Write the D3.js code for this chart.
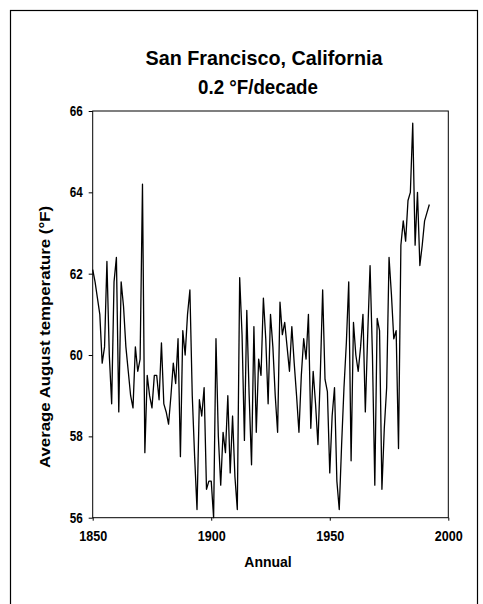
<!DOCTYPE html>
<html><head><meta charset="utf-8">
<script src="https://cdn.jsdelivr.net/npm/d3@7"></script>
<style>body{margin:0;background:#fff}svg{display:block}</style>
</head><body>
<script>
const startYear = 1850;
const temps = [
62.1,61.8,61.4,61.0,59.8,60.2,62.3,60.0,58.8,61.8,
62.4,58.6,61.8,61.2,60.2,59.6,59.0,58.7,60.2,59.6,
59.9,64.2,57.6,59.5,59.0,58.7,59.5,59.5,58.9,60.3,
58.8,58.6,58.3,59.0,59.8,59.3,60.4,57.5,60.6,60.0,
61.0,61.6,59.0,57.5,56.2,58.9,58.5,59.2,56.7,56.9,
56.9,56.0,60.4,58.0,56.8,58.1,57.6,59.0,57.1,58.5,
57.0,56.2,61.9,60.5,57.9,61.1,59.0,57.3,60.7,58.1,
59.9,59.5,61.4,60.4,58.8,61.0,60.2,59.0,58.1,61.3,
60.5,60.8,60.2,59.6,60.7,59.8,59.0,58.1,59.5,60.4,
59.9,61.0,58.2,59.6,58.8,57.8,59.5,61.6,59.4,59.1,
57.1,58.5,59.2,56.9,56.2,57.8,59.2,60.3,61.8,57.4,
60.8,60.0,59.6,60.2,61.0,58.6,60.5,62.2,60.0,56.8,
60.9,60.6,56.7,58.2,59.2,62.4,61.5,60.4,60.6,57.7,
62.7,63.3,62.8,63.8,64.0,65.7,62.7,64.0,62.2,62.7,
63.3,63.5,63.7
];
const years = temps.map((d,i)=>startYear+i);
const xTicks = [1850,1900,1950,2000];
const yTicks = [56,58,60,62,64,66];
const titleLines = ["San Francisco, California","0.2 °F/decade"];
const xLabel = "Annual";
const yLabel = "Average August temperature (°F)";

const W=483,H=604;
const m={left:92.7,right:448.3,top:111,bottom:517.7};
const font='"Liberation Sans",Arial,sans-serif';
const svg=d3.select("body").append("svg").attr("width",W).attr("height",H);
svg.append("rect").attr("x",10.5).attr("y",10.5).attr("width",467).attr("height",H).attr("fill","none").attr("stroke","#000").attr("stroke-width",1.2);

const x=d3.scaleLinear().domain([1850,2000]).range([m.left,m.right]);
const y=d3.scaleLinear().domain([56,66]).range([m.bottom,m.top]);

svg.append("rect").attr("x",m.left).attr("y",m.top).attr("width",m.right-m.left).attr("height",m.bottom-m.top)
  .attr("fill","none").attr("stroke","#000").attr("stroke-width",1);

const gy=svg.append("g").attr("transform",`translate(${m.left},0)`)
  .call(d3.axisLeft(y).tickValues(yTicks).tickSize(4).tickPadding(6).tickFormat(d3.format("d")));
const gx=svg.append("g").attr("transform",`translate(0,${m.bottom})`)
  .call(d3.axisBottom(x).tickValues(xTicks).tickSize(3).tickPadding(10).tickFormat(d3.format("d")));
[gx,gy].forEach(g=>{g.select(".domain").remove();
  g.selectAll("text").attr("font-family",font).attr("font-weight","bold").attr("font-size",14).attr("fill","#000")
   .attr("lengthAdjust","spacingAndGlyphs");
  g.selectAll("line").attr("stroke","#000");});
gx.selectAll("text").attr("textLength",28);
gy.selectAll("text").attr("textLength",13);

const line=d3.line().x((d,i)=>x(years[i])).y(d=>y(d));
svg.append("path").datum(temps).attr("d",line).attr("fill","none").attr("stroke","#000").attr("stroke-width",1.3).attr("stroke-linejoin","round");

const tLens=[237,120];
svg.selectAll(".title").data(titleLines).enter().append("text")
  .attr("x",(d,i)=>i?258:264).attr("y",(d,i)=>65+i*29).attr("text-anchor","middle")
  .attr("textLength",(d,i)=>tLens[i]).attr("lengthAdjust","spacingAndGlyphs")
  .attr("font-family",font).attr("font-weight","bold").attr("font-size",21).text(d=>d);

svg.append("text").attr("x",268).attr("y",567).attr("text-anchor","middle")
  .attr("font-family",font).attr("font-weight","bold").attr("font-size",14).text(xLabel);
svg.append("text").attr("transform","translate(50,337) rotate(-90)").attr("text-anchor","middle")
  .attr("textLength",262).attr("lengthAdjust","spacingAndGlyphs")
  .attr("font-family",font).attr("font-weight","bold").attr("font-size",14.5).text(yLabel);
</script>
</body></html>
